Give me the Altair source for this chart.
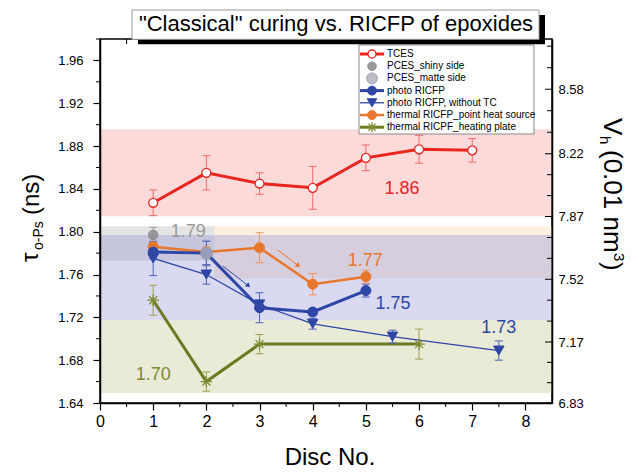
import altair as alt
import pandas as pd

# ---------------- data ----------------
series_names = ["TCES", "PCES_shiny side", "PCES_matte side", "photo RICFP",
                "photo RICFP, without TC", "thermal RICFP_point heat source",
                "thermal RICPF_heating plate"]

disc_tces = [1, 2, 3, 4, 5, 6, 7]
tau_tces = [1.827, 1.855, 1.845, 1.841, 1.869, 1.877, 1.876]
err_tces = [0.012, 0.016, 0.010, 0.020, 0.012, 0.013, 0.011]

disc_shiny = [1]
tau_shiny = [1.797]
err_shiny = [0.007]

disc_matte = [2]
tau_matte = [1.780]
err_matte = [0.012]

disc_photo = [1, 2, 3, 4, 5]
tau_photo = [1.781, 1.780, 1.729, 1.725, 1.745]
err_photo = [0.006, 0.011, 0.014, 0.003, 0.006]

disc_photo_notc = [1, 2, 3, 4, 5.5, 7.5]
tau_photo_notc = [1.775, 1.760, 1.732, 1.714, 1.702, 1.689]
err_photo_notc = [0.016, 0.009, 0.004, 0.005, 0.006, 0.009]

disc_thermal = [1, 2, 3, 4, 5]
tau_thermal = [1.786, 1.781, 1.785, 1.751, 1.758]
err_thermal = [0.004, 0.005, 0.014, 0.010, 0.006]

disc_plate = [1, 2, 3, 6]
tau_plate = [1.736, 1.660, 1.695, 1.695]
err_plate = [0.014, 0.009, 0.009, 0.014]

# shaded ranges (drawn in this order)
band_names = ["TCES", "heating plate", "point heat source", "PCES", "photo RICFP"]
band_x0 = [0, 0, 2.15, 0, 0]
band_x1 = [8.5, 8.5, 8.5, 2.15, 8.5]
band_lo = [1.8144, 1.6494, 1.7564, 1.7729, 1.7173]
band_hi = [1.8956, 1.7173, 1.8050, 1.8050, 1.7970]

value_labels = ["1.86", "1.79", "1.77", "1.75", "1.73", "1.70"]
value_label_x = [5.68, 1.66, 4.99, 5.51, 7.50, 1.00]
value_label_y = [1.8403, 1.7996, 1.7730, 1.7323, 1.7098, 1.6666]

arrow_x0 = [2.31, 3.34]
arrow_y0 = [1.7679, 1.7830]
arrow_x1 = [2.79, 3.73]
arrow_y1 = [1.7495, 1.7683]

x_ticks = [0, 1, 2, 3, 4, 5, 6, 7, 8]
x_minor = [0.5, 1.5, 2.5, 3.5, 4.5, 5.5, 6.5, 7.5]
left_ticks = [1.64, 1.68, 1.72, 1.76, 1.80, 1.84, 1.88, 1.92, 1.96]
left_minor = [1.66, 1.70, 1.74, 1.78, 1.82, 1.86, 1.90, 1.94, 1.98]
right_ticks = [6.83, 7.17, 7.52, 7.87, 8.22, 8.58]

title_text = '"Classical" curing vs. RICFP of epoxides'

# ---------------- styles ----------------
FONT = "Liberation Sans"
W, H = 452, 364
ASTERISK = "M-1,0L1,0M0,-1L0,1M-0.7,-0.7L0.7,0.7M-0.7,0.7L0.7,-0.7"

styles = {
    "TCES": dict(line="#e8251f", lw=3, err="#f06a66", shape="circle", fill="white",
                 stroke="#e8251f", size=80, filled=True, sw=1.3),
    "PCES_shiny side": dict(line=None, lw=0, err="#9a9aa6", shape="circle", fill="#8a8a8e",
                            stroke="#7a7a7e", size=90, filled=True, sw=1),
    "PCES_matte side": dict(line=None, lw=0, err="#9a9cb4", shape="circle", fill="#b0b2c0",
                            stroke="#9a9cac", size=150, filled=True, sw=1),
    "photo RICFP": dict(line="#2e46a6", lw=3, err="#4f63b8", shape="circle", fill="#2e46a6",
                        stroke="#2e46a6", size=100, filled=True, sw=1),
    "photo RICFP, without TC": dict(line="#2e46a6", lw=1.3, err="#4f63b8", shape="triangle-down",
                                    fill="#2e46a6", stroke="#2e46a6", size=110, filled=True, sw=1),
    "thermal RICFP_point heat source": dict(line="#e8772e", lw=2.5, err="#ec9460", shape="circle",
                                            fill="#e8772e", stroke="#e8772e", size=100, filled=True, sw=1),
    "thermal RICPF_heating plate": dict(line="#6b7a22", lw=3, err="#9aa352", shape=ASTERISK,
                                        fill="none", stroke="#7d8a30", size=130, filled=False, sw=1.3),
}
band_styles = ["#f58484", "#b9bd7a", "#f9ce9e", "#a5a5a5", "#8080d0"]
label_colors = ["#e8251f", "#9a9a9a", "#e8772e", "#2e46a6", "#2e46a6", "#7d8a30"]

XS = alt.Scale(domain=[0, 8.5], nice=False, zero=False)
YS = alt.Scale(domain=[1.64, 1.98], nice=False, zero=False)
AX_X = alt.Axis(values=x_ticks, format="d", tickSize=7, labelFontSize=16, labelPadding=3,
                title=None, grid=False, labelFlush=False, zindex=1)
AX_Y = alt.Axis(values=left_ticks, format=".2f", tickSize=7, labelFontSize=13, labelPadding=10,
                title=None, grid=False, labelFlush=False, zindex=1)


def X(f):
    return alt.X(f, scale=XS, axis=AX_X)


def Y(f):
    return alt.Y(f, scale=YS, axis=AX_Y)


series_data = [
    (disc_tces, tau_tces, err_tces),
    (disc_shiny, tau_shiny, err_shiny),
    (disc_matte, tau_matte, err_matte),
    (disc_photo, tau_photo, err_photo),
    (disc_photo_notc, tau_photo_notc, err_photo_notc),
    (disc_thermal, tau_thermal, err_thermal),
    (disc_plate, tau_plate, err_plate),
]

layers = []

# bands
for i, name in enumerate(band_names):
    d = pd.DataFrame({"x0": [band_x0[i]], "x1": [band_x1[i]], "lo": [band_lo[i]], "hi": [band_hi[i]]})
    layers.append(alt.Chart(d).mark_rect(fill=band_styles[i], opacity=0.3, strokeWidth=0).encode(
        x=X("x0:Q"), x2="x1", y=Y("lo:Q"), y2="hi"))

frames = {}
for name, (xs, ys, es) in zip(series_names, series_data):
    frames[name] = pd.DataFrame({"disc": xs, "tau": ys,
                                 "lo": [y - e for y, e in zip(ys, es)],
                                 "hi": [y + e for y, e in zip(ys, es)]})

line_order = ["photo RICFP, without TC", "thermal RICFP_point heat source", "photo RICFP",
              "thermal RICPF_heating plate", "TCES"]
for name in line_order:
    s = styles[name]
    layers.append(alt.Chart(frames[name]).mark_line(color=s["line"], strokeWidth=s["lw"]).encode(
        x=X("disc:Q"), y=Y("tau:Q")))

for name in series_names:
    s = styles[name]
    d = frames[name]
    layers.append(alt.Chart(d).mark_rule(color=s["err"], strokeWidth=1).encode(
        x=X("disc:Q"), y=Y("lo:Q"), y2="hi"))
    for f in ["lo", "hi"]:
        layers.append(alt.Chart(d).mark_tick(color=s["err"], orient="horizontal", size=8,
                                             thickness=1, opacity=1).encode(
            x=X("disc:Q"), y=Y(f + ":Q")))

point_order = ["thermal RICFP_point heat source", "photo RICFP, without TC", "photo RICFP",
               "thermal RICPF_heating plate", "TCES", "PCES_matte side", "PCES_shiny side"]
for name in point_order:
    s = styles[name]
    op = 0.8 if name.startswith("PCES") else 1
    kw = dict(shape=s["shape"], size=s["size"], stroke=s["stroke"], strokeWidth=s["sw"],
              opacity=op, filled=s["filled"])
    if s["filled"]:
        kw["fill"] = s["fill"]
    layers.append(alt.Chart(frames[name]).mark_point(**kw).encode(x=X("disc:Q"), y=Y("tau:Q")))

# value labels
for i, t in enumerate(value_labels):
    d = pd.DataFrame({"x": [value_label_x[i]], "y": [value_label_y[i]], "t": [t]})
    layers.append(alt.Chart(d).mark_text(font=FONT, fontSize=18, color=label_colors[i],
                                         baseline="middle").encode(
        x=X("x:Q"), y=Y("y:Q"), text="t:N"))

# arrows
arrow_colors = ["#2e46a6", "#e8772e"]
arrow_angles = [132, 127]
for i in range(len(arrow_x0)):
    d = pd.DataFrame({"x0": [arrow_x0[i]], "y0": [arrow_y0[i]], "x1": [arrow_x1[i]], "y1": [arrow_y1[i]]})
    layers.append(alt.Chart(d).mark_rule(color=arrow_colors[i], strokeWidth=1).encode(
        x=X("x0:Q"), y=Y("y0:Q"), x2="x1", y2="y1"))
    layers.append(alt.Chart(d).mark_point(shape="triangle-up", size=30, filled=True,
                                          color=arrow_colors[i], opacity=1,
                                          angle=arrow_angles[i]).encode(
        x=X("x1:Q"), y=Y("y1:Q")))

# minor / inner ticks
layers.append(alt.Chart(pd.DataFrame({"v": left_minor})).mark_rule(color="black", strokeWidth=1).encode(
    y=Y("v:Q"), x=alt.value(-4), x2=alt.value(0)))
layers.append(alt.Chart(pd.DataFrame({"v": x_minor})).mark_rule(color="black", strokeWidth=1).encode(
    x=X("v:Q"), y=alt.value(H), y2=alt.value(H + 4)))
layers.append(alt.Chart(pd.DataFrame({"v": x_minor + x_ticks[1:]})).mark_rule(color="black", strokeWidth=1).encode(
    x=X("v:Q"), y=alt.value(0), y2=alt.value(5)))

one = pd.DataFrame({"t": [""]})


def box(x0, x1, y0, y1, fill, stroke=None, sw=0):
    kw = dict(fill=fill, strokeWidth=sw)
    if stroke:
        kw["stroke"] = stroke
    return alt.Chart(one).mark_rect(**kw).encode(
        x=alt.value(x0), x2=alt.value(x1), y=alt.value(y0), y2=alt.value(y1))


def txt(s, x, y, size, angle=0, align="center", color="black"):
    return alt.Chart(pd.DataFrame({"t": [s]})).mark_text(
        font=FONT, fontSize=size, angle=angle, align=align, baseline="middle", color=color).encode(
        text="t:N", x=alt.value(x), y=alt.value(y))


# legend
layers.append(box(259, 434, 6, 95, "white", "#888888", 1))
ROW0, ROWH = 15, 12.2
for i, name in enumerate(series_names):
    s = styles[name]
    yy = ROW0 + ROWH * i
    if s["line"]:
        layers.append(alt.Chart(one).mark_rule(color=s["line"], strokeWidth=s["lw"]).encode(
            x=alt.value(260), x2=alt.value(284), y=alt.value(yy)))
    kw = dict(shape=s["shape"], size=s["size"] * 0.8, stroke=s["stroke"], strokeWidth=s["sw"],
              opacity=0.85 if name.startswith("PCES") else 1, filled=s["filled"])
    if s["filled"]:
        kw["fill"] = s["fill"]
    layers.append(alt.Chart(one).mark_point(**kw).encode(x=alt.value(272), y=alt.value(yy)))
    layers.append(txt(name, 287, yy, 10, align="left"))

# title box
layers.append(box(38, 445, -24, 5.3, "black"))
layers.append(box(32, 439, -29, 0.3, "white", "#999999", 1))
layers.append(txt(title_text, 236, -15, 22))

# axis titles
layers.append(txt("Disc No.", 230, 419, 24))
layers.append(txt("τ", -69, 223, 24, angle=270, align="left"))
layers.append(txt("o-Ps", -61, 211, 14, angle=270, align="left"))
layers.append(txt("(ns)", -68, 176, 24, angle=270, align="left"))
layers.append(txt("V", 512, 79, 26, angle=90, align="left"))
layers.append(txt("h", 505, 97, 15, angle=90, align="left"))
layers.append(txt("(0.01 nm", 512, 111, 26, angle=90, align="left"))
layers.append(txt("3", 519, 214, 15, angle=90, align="left"))
layers.append(txt(")", 512, 223, 26, angle=90, align="left"))

main = alt.layer(*layers)

# right axis (V_h)
right_minor = []
for a, b in zip(right_ticks[:-1], right_ticks[1:]):
    right_minor += [a + (b - a) / 3, a + 2 * (b - a) / 3]
right_minor += [right_ticks[-1] + (right_ticks[-1] - right_ticks[-2]) / 3,
                right_ticks[-1] + 2 * (right_ticks[-1] - right_ticks[-2]) / 3]
RY = alt.Y("v:Q", scale=alt.Scale(domain=[6.83, 8.86], nice=False, zero=False),
           axis=alt.Axis(orient="right", values=right_ticks, format=".2f", ticks=False,
                         labelPadding=6, labelFontSize=13, title=None, grid=False,
                         labelFlush=False, zindex=1))
right = alt.layer(
    alt.Chart(pd.DataFrame({"v": right_ticks})).mark_rule(color="black", strokeWidth=1).encode(
        y=RY, x=alt.value(W - 7), x2=alt.value(W)),
    alt.Chart(pd.DataFrame({"v": right_minor})).mark_rule(color="black", strokeWidth=1).encode(
        y=RY, x=alt.value(W - 5), x2=alt.value(W)),
)

chart = alt.layer(main, right).resolve_scale(y="independent").properties(
    width=W, height=H,
    padding={"left": 100, "top": 39, "right": 82, "bottom": 70},
    autosize=alt.AutoSizeParams(type="none"),
    background="white",
).configure_view(stroke="black", strokeWidth=1.5).configure_axis(
    domainColor="black", domainWidth=1.5, tickColor="black", tickWidth=1.2,
    labelColor="black", labelFont=FONT,
)

chart.save("out.html", embed_options={"renderer": "svg", "actions": False})
